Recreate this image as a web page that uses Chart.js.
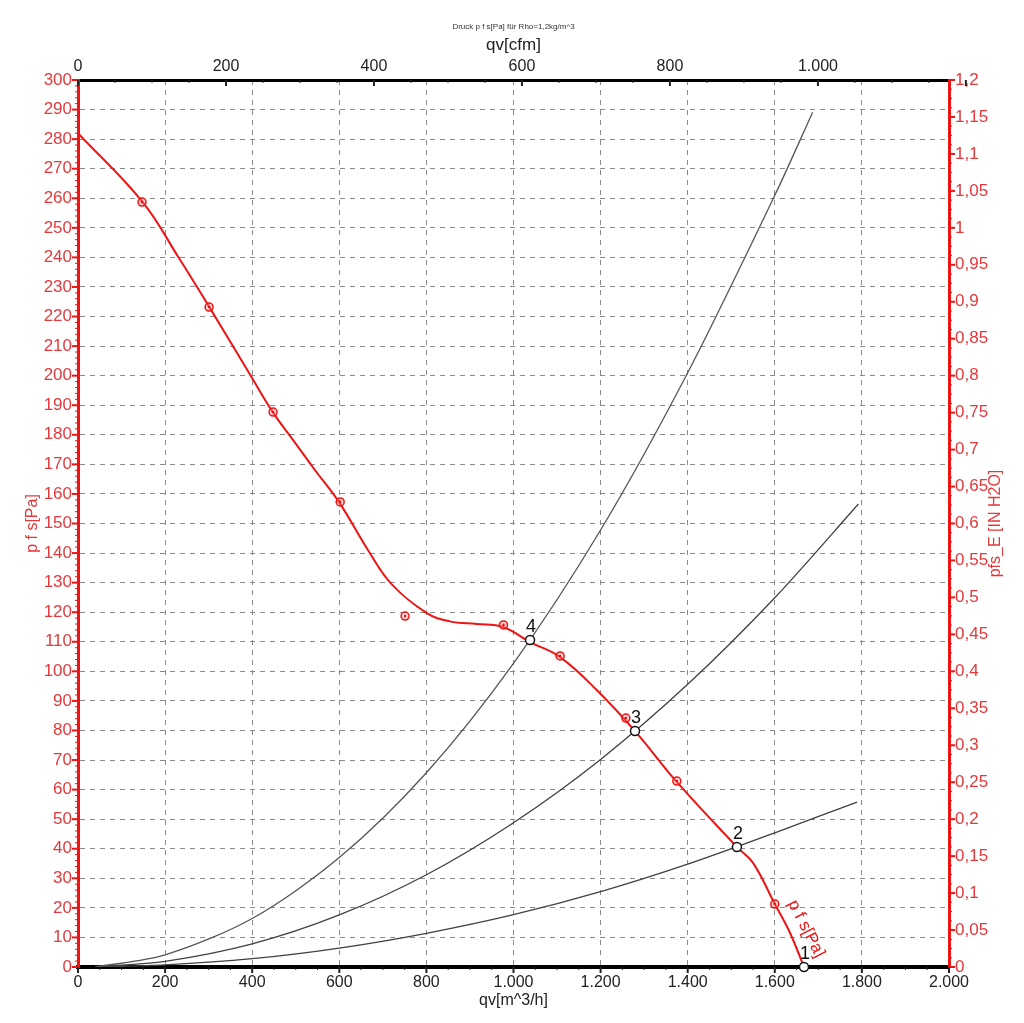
<!DOCTYPE html>
<html>
<head>
<meta charset="utf-8">
<script src="https://cdn.jsdelivr.net/npm/chart.js@4.4.1/dist/chart.umd.min.js"></script>
<style>
  html, body { margin: 0; padding: 0; background: #fff; }
  #wrap { position: relative; width: 1024px; height: 1023px; }
</style>
</head>
<body>
<div id="wrap"><canvas id="fanChart"></canvas></div>
<script>
// Kennlinie p f s
const curveQ = [0, 148, 230, 302, 398, 448, 494, 544, 599, 670, 720, 801, 854, 916, 976, 1038, 1107, 1191, 1279, 1375, 1513, 1550, 1600, 1635, 1667];
const curveP = [282, 258.8, 240.2, 223.1, 199.6, 187.5, 178.2, 168.1, 157.3, 140, 129.5, 119.7, 116.9, 116, 115, 109.9, 104.8, 93.7, 79.8, 62.6, 40.6, 35.2, 21.3, 11.5, 0];

// Messpunkte
const measQ = [147, 301, 448, 602, 751, 977, 1107, 1258, 1375, 1600];
const measP = [258.7, 223.2, 187.7, 157.3, 118.7, 115.7, 105.2, 84.2, 62.9, 21.3];

// Anlagenkennlinien
const sysAQ = [40, 200, 400, 600, 800, 1000, 1200, 1400, 1600, 1687];
const sysAP = [0, 4.1, 16.4, 37.0, 65.7, 102.7, 147.8, 201.0, 261.0, 289.1];
const sysBQ = [40, 200, 400, 600, 800, 1000, 1200, 1400, 1600, 1792];
const sysBP = [0, 1.9, 7.8, 17.6, 31.2, 48.8, 70.2, 95.6, 124.9, 156.6];
const sysCQ = [40, 200, 400, 600, 800, 1000, 1200, 1400, 1600, 1789];
const sysCP = [0, 0.7, 2.8, 6.4, 11.4, 17.7, 25.5, 34.8, 45.4, 55.8];

// Betriebspunkte
const opQ = [1667, 1513, 1279, 1038];
const opP = [0, 40.6, 79.8, 110.6];
const opLabels = ['1', '2', '3', '4'];

// Achsen
const qvTicks = [0, 200, 400, 600, 800, 1000, 1200, 1400, 1600, 1800, 2000];
const qvLabels = ['0', '200', '400', '600', '800', '1.000', '1.200', '1.400', '1.600', '1.800', '2.000'];
const cfmTicks = [0, 200, 400, 600, 800, 1000];
const cfmLabels = ['0', '200', '400', '600', '800', '1.000'];
const paTicks = [0, 10, 20, 30, 40, 50, 60, 70, 80, 90, 100, 110, 120, 130, 140, 150, 160, 170, 180, 190, 200, 210, 220, 230, 240, 250, 260, 270, 280, 290, 300];
const inTicks = [0, 0.05, 0.1, 0.15, 0.2, 0.25, 0.3, 0.35, 0.4, 0.45, 0.5, 0.55, 0.6, 0.65, 0.7, 0.75, 0.8, 0.85, 0.9, 0.95, 1, 1.05, 1.1, 1.15, 1.2];
const inLabels = ['0', '0,05', '0,1', '0,15', '0,2', '0,25', '0,3', '0,35', '0,4', '0,45', '0,5', '0,55', '0,6', '0,65', '0,7', '0,75', '0,8', '0,85', '0,9', '0,95', '1', '1,05', '1,1', '1,15', '1,2'];

const RED = '#ee1414';
const LABEL_RED = '#e3393c';
const FONT = "'Liberation Sans', Arial, sans-serif";
Chart.defaults.font.family = FONT;

const xy = (qs, ps) => qs.map((q, i) => ({ x: q, y: ps[i] }));

const axisDeco = {
    id: 'axisDeco',
    afterDraw(chart) {
        const { ctx, chartArea: a, scales } = chart;
        ctx.save();
        const marks = (scale, step, majorStep, color, draw) => {
            const n = Math.round((scale.max - scale.min) / step);
            ctx.strokeStyle = color;
            for (let i = 0; i <= n; i++) {
                const v = scale.min + i * step;
                const r = v / majorStep;
                const major = Math.abs(r - Math.round(r)) < 1e-6;
                ctx.lineWidth = major ? 2 : 1;
                ctx.beginPath();
                draw(scale.getPixelForValue(v), major ? 6 : 3);
                ctx.stroke();
            }
        };
        marks(scales.y, 2, 10, RED, (p, l) => { ctx.moveTo(a.left - l, p); ctx.lineTo(a.left, p); });
        marks(scales.y2, 0.0125, 0.05, RED, (p, l) => { ctx.moveTo(a.right, p); ctx.lineTo(a.right + l, p); });
        marks(scales.x, 50, 200, '#222', (p, l) => { ctx.moveTo(p, a.bottom); ctx.lineTo(p, a.bottom + l); });
        marks(scales.x2, 50, 200, '#222', (p, l) => { ctx.moveTo(p, a.top); ctx.lineTo(p, a.top + l); });

        // Titel
        ctx.fillStyle = '#333';
        ctx.font = '8px ' + FONT;
        ctx.textAlign = 'center';
        ctx.textBaseline = 'middle';
        ctx.fillText('Druck p f s[Pa] für Rho=1,2kg/m^3', (a.left + a.right) / 2, 27);

        // rechte Achsenbeschriftung
        ctx.save();
        ctx.translate(996, (a.top + a.bottom) / 2);
        ctx.rotate(-Math.PI / 2);
        ctx.fillStyle = LABEL_RED;
        ctx.font = '16px ' + FONT;
        ctx.fillText('pfs_E [IN H2O]', 0, 0);
        ctx.restore();

        // Betriebspunkt-Nummern
        ctx.fillStyle = '#111';
        ctx.font = '18px ' + FONT;
        opQ.forEach((q, i) => {
            ctx.fillText(opLabels[i], scales.x.getPixelForValue(q) + 1, scales.y.getPixelForValue(opP[i]) - 13);
        });

        // Kurvenbeschriftung
        ctx.save();
        ctx.translate(scales.x.getPixelForValue(1622), scales.y.getPixelForValue(21));
        ctx.rotate(63 * Math.PI / 180);
        ctx.fillStyle = RED;
        ctx.font = '17px ' + FONT;
        ctx.textAlign = 'left';
        ctx.textBaseline = 'bottom';
        ctx.fillText('p f s[Pa]', 0, 0);
        ctx.restore();

        ctx.restore();
    }
};

const sysStyle = {
    type: 'line',
    borderColor: '#404040',
    borderWidth: 1.3,
    pointRadius: 0,
    tension: 0.3,
    xAxisID: 'x',
    yAxisID: 'y'
};

new Chart(document.getElementById('fanChart').getContext('2d'), {
    type: 'line',
    data: {
        datasets: [
            {
                label: 'Betriebspunkte',
                data: xy(opQ, opP),
                showLine: false,
                pointRadius: 4.5,
                pointBackgroundColor: '#fff',
                pointBorderColor: '#111',
                pointBorderWidth: 1.5,
                clip: false
            },
            {
                label: 'Messpunkte',
                data: xy(measQ, measP),
                showLine: false,
                pointRadius: 1.3,
                pointBackgroundColor: RED,
                pointBorderWidth: 0
            },
            {
                label: 'Messpunkte Ring',
                data: xy(measQ, measP),
                showLine: false,
                pointRadius: 4,
                pointBackgroundColor: 'rgba(255,140,140,0.35)',
                pointBorderColor: RED,
                pointBorderWidth: 1.5
            },
            {
                label: 'p f s[Pa]',
                data: xy(curveQ, curveP),
                borderColor: RED,
                borderWidth: 2,
                pointRadius: 0,
                tension: 0.4
            },
            { ...sysStyle, label: 'A', data: xy(sysAQ, sysAP), borderColor: '#555' },
            { ...sysStyle, label: 'B', data: xy(sysBQ, sysBP) },
            { ...sysStyle, label: 'C', data: xy(sysCQ, sysCP) }
        ]
    },
    options: {
        responsive: true,
        maintainAspectRatio: false,
        animation: false,
        layout: { padding: 0 },
        plugins: {
            legend: { display: false },
            tooltip: { enabled: false }
        },
        scales: {
            x: {
                type: 'linear',
                position: 'bottom',
                min: 0,
                max: 2000,
                afterBuildTicks: s => { s.ticks = qvTicks.map(v => ({ value: v })); },
                afterFit: s => { s.height = 56; },
                ticks: {
                    callback: (v, i) => qvLabels[i],
                    font: { size: 16 },
                    color: '#222',
                    padding: 6,
                    maxRotation: 0,
                    autoSkip: false
                },
                grid: { color: '#8a8a8a', lineWidth: 1, drawTicks: false },
                border: { color: '#000', width: 4, dash: [5, 5] },
                title: { display: true, text: 'qv[m^3/h]', font: { size: 16 }, color: '#222', padding: { top: 0, bottom: 13 } }
            },
            x2: {
                type: 'linear',
                position: 'top',
                min: 0,
                max: 2000 / 1.699,
                afterBuildTicks: s => { s.ticks = cfmTicks.map(v => ({ value: v })); },
                afterFit: s => { s.height = 80; },
                ticks: {
                    callback: (v, i) => cfmLabels[i],
                    font: { size: 16 },
                    color: '#222',
                    padding: 4,
                    maxRotation: 0,
                    autoSkip: false
                },
                grid: { drawOnChartArea: false, drawTicks: false },
                border: { color: '#000', width: 3 },
                title: { display: true, text: 'qv[cfm]', font: { size: 17 }, color: '#222', padding: { top: 35, bottom: 0 } }
            },
            y: {
                type: 'linear',
                position: 'left',
                min: 0,
                max: 300,
                afterBuildTicks: s => { s.ticks = paTicks.map(v => ({ value: v })); },
                afterFit: s => { s.width = 78; },
                ticks: {
                    callback: (v, i) => String(paTicks[i]),
                    font: { size: 17 },
                    color: LABEL_RED,
                    padding: 6,
                    autoSkip: false
                },
                grid: { color: '#8a8a8a', lineWidth: 1, drawTicks: false },
                border: { color: RED, width: 3, dash: [5, 5] },
                title: { display: true, text: 'p f s[Pa]', font: { size: 16 }, color: LABEL_RED, padding: { top: 23, bottom: 0 } }
            },
            y2: {
                type: 'linear',
                position: 'right',
                min: 0,
                max: 1.2,
                afterBuildTicks: s => { s.ticks = inTicks.map(v => ({ value: v })); },
                afterFit: s => { s.width = 75; },
                ticks: {
                    callback: (v, i) => inLabels[i],
                    font: { size: 17 },
                    color: LABEL_RED,
                    padding: 6,
                    autoSkip: false
                },
                grid: { drawOnChartArea: false, drawTicks: false },
                border: { color: RED, width: 3 }
            }
        }
    },
    plugins: [axisDeco]
});
</script>
</body>
</html>
